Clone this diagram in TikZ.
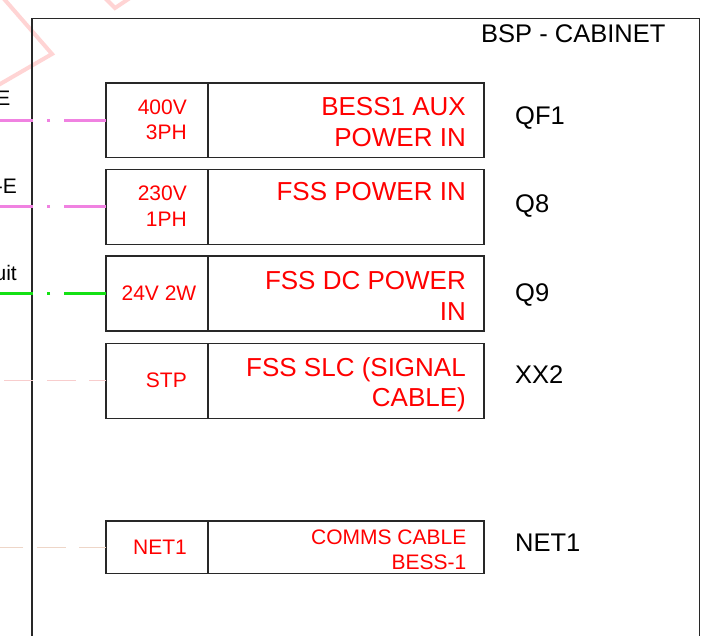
\documentclass[tikz,border=0pt]{standalone}
\usepackage{fontspec}
\setmainfont{Liberation Sans}
\definecolor{pinkc}{RGB}{240,130,225}
\definecolor{greenc}{RGB}{20,225,20}
\definecolor{stpc}{RGB}{248,205,205}
\definecolor{netc}{RGB}{238,214,200}
\definecolor{wmark}{RGB}{255,212,212}
\definecolor{boxc}{RGB}{40,40,40}
\definecolor{redc}{RGB}{255,0,0}
\tikzset{
  cell/.style={draw=boxc, line width=1.5pt, rectangle, inner sep=0pt, outer sep=0pt},
  cellL/.style={cell, minimum width=102pt},
  cellR/.style={cell, minimum width=276pt},
  bigred/.style={anchor=base east, inner sep=0pt, text=redc, font=\fontsize{26}{31}\selectfont},
  smallred/.style={anchor=base east, inner sep=0pt, text=redc, font=\fontsize{21}{25}\selectfont},
  lbl/.style={anchor=base west, inner sep=0pt, text=black, font=\fontsize{25.5}{30}\selectfont},
  cut/.style={anchor=base east, inner sep=0pt, text=black, font=\fontsize{21}{25}\selectfont},
  pinkline/.style={draw=pinkc, line width=3pt, dash pattern=on 42pt off 14pt on 3pt off 14pt on 300pt off 1pt},
  greenline/.style={draw=greenc, line width=3pt, dash pattern=on 42pt off 14pt on 3pt off 14pt on 300pt off 1pt},
  stpline/.style={draw=stpc, line width=1.3pt, dash pattern=on 29pt off 13.5pt, dash phase=12pt},
  netline/.style={draw=netc, line width=1.3pt, dash pattern=on 29pt off 13.5pt, dash phase=2pt},
}
\begin{document}
\begin{tikzpicture}[x=1pt,y=-1pt]
\useasboundingbox (0,0) rectangle (711,636);
\clip (0,0) rectangle (711,636);
\fill[white] (0,0) rectangle (711,636);
% faint watermark strokes
\draw[wmark, line width=4pt] (0.6,-5) -- (52,54) -- (-5,87);
\draw[wmark, line width=4pt] (103,-4) -- (115,8) -- (133,-4);
% cabinet
\node[draw=boxc, line width=1.5pt, rectangle, inner sep=0pt, outer sep=0pt,
      minimum width=667.3pt, minimum height=650pt, anchor=north west] (cab) at (32,18.3) {};
\draw[boxc, line width=2.2pt] (cab.north west) -- (cab.south west);
\node[lbl] (cabt) at (481,43) {BSP - CABINET};
% free ends at the left
\coordinate (edge) at (-3,0);
% boxes
\node[cellL, minimum height=74.5pt] (a1) at (157,120.25) {};
\node[cellR, minimum height=74.5pt] (b1) at (346,120.25) {};
\node[cellL, minimum height=75pt] (a2) at (157,206.8) {};
\node[cellR, minimum height=75pt] (b2) at (346,206.8) {};
\node[cellL, minimum height=75pt] (a3) at (157,293.5) {};
\node[cellR, minimum height=75pt] (b3) at (346,293.5) {};
\node[cellL, minimum height=75pt] (a4) at (157,380.8) {};
\node[cellR, minimum height=75pt] (b4) at (346,380.8) {};
\node[cellL, minimum height=52.3pt] (a5) at (157,547.2) {};
\node[cellR, minimum height=52.3pt] (b5) at (346,547.2) {};
% connectors
\draw[pinkline] (a1.west) -- (a1.west -| edge);
\draw[pinkline] (a2.west) -- (a2.west -| edge);
\draw[greenline] (a3.west) -- (a3.west -| edge);
\draw[stpline] (a4.west) -- (a4.west -| edge);
\draw[netline] (a5.west) -- (a5.west -| edge);
% cut-off texts at left edge
\node[cut] (t1) at (10.5,106) {E};
\node[cut] (t2) at (17,193.3) {-E};
\node[cut] (t3) at (17,280) {uit};
% left cell texts
\node[smallred] (l1a) at (187,114.3) {400V};
\node[smallred] (l1b) at (187,139.3) {3PH};
\node[smallred] (l2a) at (187,201) {230V};
\node[smallred] (l2b) at (187,226) {1PH};
\node[smallred] (l3) at (196.5,300) {24V 2W};
\node[smallred] (l4) at (187,387.7) {STP};
\node[smallred] (l5) at (187,554.3) {NET1};
% right cell texts
\node[bigred] (r1a) at (466,116) {BESS1 AUX};
\node[bigred] (r1b) at (466,146.7) {POWER IN};
\node[bigred] (r2) at (466,201) {FSS POWER IN};
\node[bigred] (r3a) at (466,289.3) {FSS DC POWER};
\node[bigred] (r3b) at (466,320) {IN};
\node[bigred] (r4a) at (466,376) {FSS SLC (SIGNAL};
\node[bigred] (r4b) at (466,406.7) {CABLE)};
\node[smallred] (r5a) at (466.5,544.3) {COMMS CABLE};
\node[smallred] (r5b) at (466.5,569) {BESS-1};
% device labels
\node[lbl] (q1) at (515,125) {QF1};
\node[lbl] (q2) at (515,212) {Q8};
\node[lbl] (q3) at (515,301.7) {Q9};
\node[lbl] (q4) at (515,383) {XX2};
\node[lbl] (q5) at (515,551.7) {NET1};
\end{tikzpicture}
\end{document}
